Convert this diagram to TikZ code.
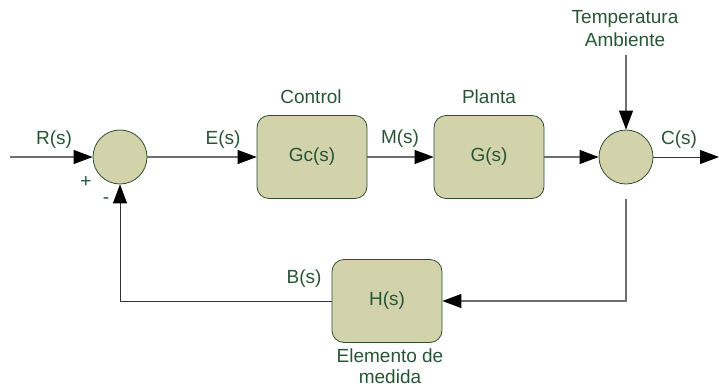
\documentclass[tikz,border=0pt]{standalone}
\usepackage{fontspec}
\setmainfont{Liberation Sans}
\usetikzlibrary{arrows.meta}
\definecolor{boxfill}{RGB}{210,211,171}
\definecolor{boxdraw}{RGB}{45,80,50}
\definecolor{txt}{RGB}{40,85,55}
\definecolor{wire}{RGB}{110,110,110}
\tikzset{
  blk/.style={draw=boxdraw, fill=boxfill, rounded corners=12pt, minimum width=110pt, minimum height=83pt, inner sep=0pt, line width=0.8pt, text=txt, font=\fontsize{19}{21}\selectfont},
  sumc/.style={circle, draw=boxdraw, fill=boxfill, minimum size=54pt, inner sep=0pt, line width=0.8pt},
  lbl/.style={text=txt, font=\fontsize{19}{21}\selectfont, inner sep=0pt, align=center},
  wirel/.style={draw=wire, line width=1.1pt},
  fbl/.style={draw=black!80, line width=0.9pt},
  arr/.style={-{Triangle[length=19pt,width=14pt,color=black]}}
}
\begin{document}
\begin{tikzpicture}[x=1pt,y=-1pt]
\useasboundingbox (0,0) rectangle (719,388);
\node[sumc] (s1) at (120,157) {};
\node[sumc] (s2) at (626,157) {};
\node[blk] (gc) at (312,157) {Gc(s)};
\node[blk] (g) at (489,157) {G(s)};
\node[blk] (h) at (387,301) {H(s)};
\coordinate (in) at (10,157);
\coordinate (out) at (719,157);
\coordinate (ta) at (626,55);
\coordinate (tap) at (626,199);
\coordinate (c1) at (626,301);
\coordinate (c2) at (120,301);
% labels
\node[lbl] (lr) at (54,140) {R(s)};
\node[lbl] (le) at (223,140) {E(s)};
\node[lbl] (lm) at (400,139) {M(s)};
\node[lbl] (lc) at (679,140) {C(s)};
\node[lbl] (lb) at (304,279) {B(s)};
\node[lbl] (lplus) at (86,182) {+};
\node[lbl] (lminus) at (106,201) {-};
\node[lbl] (lctrl) at (311,97) {Control};
\node[lbl] (lpl) at (489,97) {Planta};
\node[lbl, font=\fontsize{19}{23}\selectfont] (lta) at (625,28.5) {Temperatura\\Ambiente};
\node[lbl, font=\fontsize{19}{21}\selectfont] (lem) at (390,366.5) {Elemento de\\medida};
% connectors
\draw[wirel, arr] (in) -- (s1);
\draw[wirel, arr] (s1) -- (gc);
\draw[wirel, arr] (gc) -- (g);
\draw[wirel, arr] (g) -- (s2);
\draw[wirel, arr] (ta) -- (s2);
\draw[fbl, arr] (s2) -- (out);
\draw[wirel, arr] (tap) -- (c1) -- (h);
\draw[fbl, arr] (h) -- (c2) -- (s1);
\end{tikzpicture}
\end{document}
